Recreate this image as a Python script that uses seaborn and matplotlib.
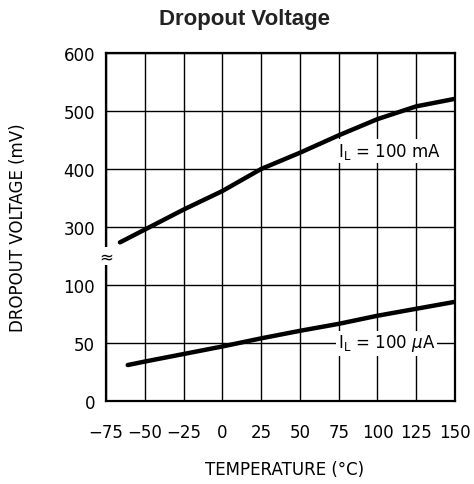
import matplotlib
matplotlib.use('Agg')
import matplotlib.pyplot as plt
import numpy as np
import pandas as pd
import seaborn as sns

# Data
temp_ma = [-66, -50, -25, 0, 25, 50, 75, 100, 125, 150]
volt_ma = [247, 291, 330, 362, 400, 428, 458, 486, 508, 521]
temp_ua = [-61, -50, -25, 0, 25, 50, 75, 100, 125, 150]
volt_ua = [31, 34, 40.5, 47, 54, 60.5, 66.5, 73.5, 79.5, 85.5]

x_ticks = [-75, -50, -25, 0, 25, 50, 75, 100, 125, 150]
y_ticks = [0, 50, 100, 300, 400, 500, 600]


# Broken y axis: 0-100 in steps of 50, 300-600 in steps of 100
def fwd(v):
    v = np.asarray(v, dtype=float)
    return np.where(v <= 100, v / 50.0,
                    np.where(v <= 300, 2 + (v - 100) / 200.0, 3 + (v - 300) / 100.0))


def inv(u):
    u = np.asarray(u, dtype=float)
    return np.where(u <= 2, u * 50.0,
                    np.where(u <= 3, 100 + (u - 2) * 200.0, 300 + (u - 3) * 100.0))


sns.set_style('white')
plt.rcParams['font.family'] = ['DejaVu Sans']
plt.rcParams['mathtext.fontset'] = 'dejavusans'
plt.rcParams['text.color'] = 'black'
plt.rcParams['axes.labelcolor'] = 'black'

df_ma = pd.DataFrame({'temp': temp_ma, 'volt': volt_ma})
df_ua = pd.DataFrame({'temp': temp_ua, 'volt': volt_ua})

fig = plt.figure(figsize=(4.74, 4.85), dpi=100)
ax = fig.add_axes([106 / 474, 1 - 402 / 485, 349 / 474, 348 / 485])
ax.set_yscale('function', functions=(fwd, inv))

sns.lineplot(data=df_ma, x='temp', y='volt', ax=ax, color='black', linewidth=3.2, zorder=3)
sns.lineplot(data=df_ua, x='temp', y='volt', ax=ax, color='black', linewidth=3.2, zorder=3)

ax.set_xlim(-75, 150)
ax.set_ylim(0, 600)
ax.set_xticks(x_ticks)
ax.set_xticklabels([str(t).replace('-', '\u2212') for t in x_ticks])
ax.set_yticks(y_ticks)
ax.set_yticklabels([str(t) for t in y_ticks])
ax.yaxis.set_minor_locator(matplotlib.ticker.NullLocator())
ax.tick_params(length=0, labelsize=12, colors='black')
ax.tick_params(axis='x', pad=16)
ax.tick_params(axis='y', pad=8)

ax.grid(True, color='black', linewidth=1.0)
for s in ax.spines.values():
    s.set_color('black')
    s.set_linewidth(1.6)

# Labels on the curves
box = dict(facecolor='white', edgecolor='none', pad=1.5)
ax.text(74.5, 431, r'$\mathregular{I_L}$ = 100 mA', fontsize=12, ha='left', va='center',
        color='black', bbox=box, zorder=4)
ax.text(74.5, 50, r'$\mathregular{I_L}$ = 100 $\mu$A', fontsize=12, ha='left', va='center',
        color='black', bbox=box, zorder=4)

# Axis break mark
ax.text(0, 200, '\u2248', transform=ax.get_yaxis_transform(),
        fontsize=12, ha='center', va='center', color='black',
        bbox=dict(facecolor='white', edgecolor='none', pad=0.3), zorder=5, clip_on=False)

ax.set_xlabel('TEMPERATURE (\u00b0C)', fontsize=12)
ax.set_ylabel('DROPOUT VOLTAGE (mV)', fontsize=12)
ax.xaxis.set_label_coords(0.511, -0.17)
ax.yaxis.set_label_coords(-0.226, 0.5)

fig.text(0.515, 0.96, 'Dropout Voltage', fontsize=16, fontweight='bold',
         ha='center', va='center', family='Liberation Sans', color='#222222')

fig.savefig('out.png', dpi=100)
